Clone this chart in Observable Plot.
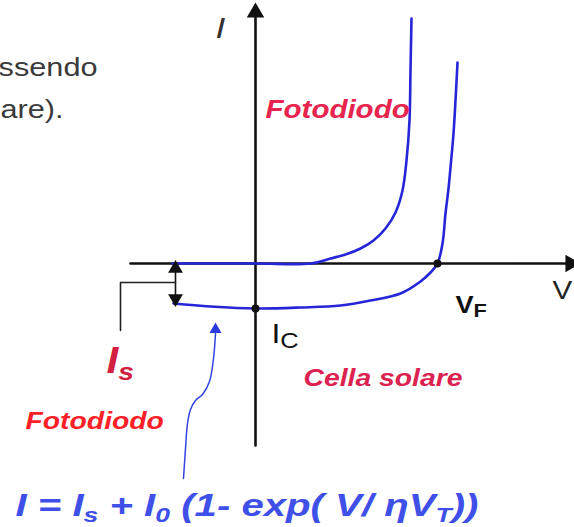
<!DOCTYPE html>
<html>
<head>
<meta charset="utf-8">
<script src="https://cdn.jsdelivr.net/npm/d3@7"></script>
<script src="https://cdn.jsdelivr.net/npm/@observablehq/plot@0.6"></script>
<style>
  html, body { margin: 0; padding: 0; background: #fff; }
  svg { display: block; }
</style>
</head>
<body>
<script>
// ---- Data (V, I in drawing units, origin at the axes crossing) ----
// Dark photodiode characteristic (upper curve)
const darkV = [-83, 0, 55, 75, 90, 105, 118, 130, 140, 147, 151, 154, 155, 156];
const darkI = [0, 0, 0, 5, 9, 15, 23, 35, 51, 73, 103, 143, 193, 245];
// Illuminated characteristic (lower curve, solar cell)
const litV = [-82, -45, 0, 45, 85, 115, 145, 165, 175, 182, 187, 190, 193, 195, 198, 200, 202];
const litI = [-40, -43, -45, -44, -42, -37, -30, -18, -9, 0, 20, 50, 75, 96, 130, 163, 201];
// Axes extents
const axisV = [-125, 312];
const axisI = [-182, 248];
// Is double arrow and bracket
const isArrowV = [-80, -80];
const isArrowI = [0, -40];
const bracketV = [-80, -135, -135];
const bracketI = [-19, -19, -67];
// Arrow from formula to the curve
const pointerV = [-72, -70, -68, -65, -60, -53, -46, -42, -40];
const pointerI = [-215, -185, -160, -146, -137, -131, -118, -95, -70];
// Marked points: Ic and VF
const markV = [0, 182];
const markI = [-45, 0];
// Labels
const labelText = ["Fotodiodo", "Cella solare", "Fotodiodo", "I_s", "I", "V", "V_F", "I_C",
  "I = I_s + I_0 (1- exp( V/ ηV_T))", "ssendo", "are)."];
const labelV = [10, 48, -230, -149, -40, 297, 200, 16, -240, -158, -192];
const labelI = [146, -122, -165, -109, 226, -35, -49, -79, -252, 188, 146];

// ---- Build tables ----
const pts = (V, I) => V.map((v, i) => ({V: v, I: I[i]}));
const dark = pts(darkV, darkI);
const lit = pts(litV, litI);
const xAxis = pts(axisV, [0, 0]);
const yAxis = pts([0, 0], axisI);
const isArrow = pts(isArrowV, isArrowI);
const bracket = pts(bracketV, bracketI);
const pointer = pts(pointerV, pointerI);
const marks = pts(markV, markI);
const labels = labelText.map((t, i) => ({t, V: labelV[i], I: labelI[i]}));
const L = (i) => [labels[i]];

const F = "'Liberation Sans', Arial, sans-serif";
const txt = (i, o) => Plot.text(L(i), {x: "V", y: "I", text: "t", lineAnchor: "bottom", textAnchor: "start", fontFamily: F, ...o});

const plot = Plot.plot({
  width: 574,
  height: 527,
  margin: 0,
  x: {domain: [-255, 319], range: [0, 574], axis: null},
  y: {domain: [-264, 263], range: [527, 0], axis: null},
  style: {background: "#fff", fontFamily: F},
  marks: [
    Plot.line(xAxis, {x: "V", y: "I", stroke: "#111", strokeWidth: 2.6}),
    Plot.line(yAxis, {x: "V", y: "I", stroke: "#111", strokeWidth: 2.6}),
    Plot.line(dark, {x: "V", y: "I", curve: "catmull-rom", stroke: "#2626d8", strokeWidth: 2.6}),
    Plot.line(lit, {x: "V", y: "I", curve: "catmull-rom", stroke: "#2626d8", strokeWidth: 2.6}),
    Plot.line(isArrow, {x: "V", y: "I", stroke: "#111", strokeWidth: 1.6}),
    Plot.line(bracket, {x: "V", y: "I", stroke: "#222", strokeWidth: 1.6}),
    Plot.line(pointer, {x: "V", y: "I", curve: "catmull-rom", stroke: "#3344e0", strokeWidth: 1.5}),
    // arrowheads
    Plot.dot([{V: axisV[1], I: 0}], {x: "V", y: "I", dx: 3, symbol: "triangle", rotate: 90, r: 6.5, fill: "#111", stroke: "none"}),
    Plot.dot([{V: 0, I: axisI[1]}], {x: "V", y: "I", dy: -3, symbol: "triangle", r: 6.5, fill: "#111", stroke: "none"}),
    Plot.dot([{V: isArrowV[0], I: isArrowI[0]}], {x: "V", y: "I", dy: 5, symbol: "triangle", r: 5.5, fill: "#111", stroke: "none"}),
    Plot.dot([{V: isArrowV[1], I: isArrowI[1]}], {x: "V", y: "I", dy: -5, symbol: "triangle", rotate: 180, r: 5.5, fill: "#111", stroke: "none"}),
    Plot.dot([{V: pointerV[pointerV.length - 1], I: pointerI[pointerI.length - 1]}], {x: "V", y: "I", dy: -4, symbol: "triangle", r: 4.5, fill: "#2b3be0", stroke: "none"}),
    Plot.dot(marks, {x: "V", y: "I", r: 4, fill: "#111", stroke: "none"}),
    // labels
    txt(0, {fontSize: 25, fontWeight: "bold", fontStyle: "italic", fill: "#e6244e"}),
    txt(1, {fontSize: 24, fontWeight: "bold", fontStyle: "italic", fill: "#dc2250"}),
    txt(2, {fontSize: 24, fontWeight: "bold", fontStyle: "italic", fill: "#ff1f28"}),
    txt(3, {fontSize: 36, fontWeight: "bold", fontStyle: "italic", fill: "#d42040"}),
    txt(4, {fontSize: 30, fontStyle: "italic", fill: "#333"}),
    txt(5, {fontSize: 25, fill: "#222"}),
    txt(6, {fontSize: 23, fontWeight: "bold", fill: "#111"}),
    txt(7, {fontSize: 27, fill: "#111"}),
    txt(8, {fontSize: 31, fontWeight: "bold", fontStyle: "italic", fill: "#3f50e8"}),
    txt(9, {fontSize: 26, fill: "#3a3a3a", textAnchor: "end"}),
    txt(10, {fontSize: 26, fill: "#3a3a3a", textAnchor: "end"})
  ]
});

document.body.appendChild(plot);

// subscripts: "_x" -> small lowered tspan; then horizontal stretch like the reference
const NS = "http://www.w3.org/2000/svg";
plot.querySelectorAll("text").forEach(el => {
  const s = el.textContent;
  const isFormula = s.startsWith("I = ");
  const bigSub = (s === "I_C" || s === "V_F");
  if (s.includes("_")) {
    const fs = parseFloat(getComputedStyle(el).fontSize) || 20;
    const scale = bigSub ? 0.8 : 0.66;
    const shift = bigSub ? 0.2 : 0.22;
    const parts = s.split(/_(.)/);
    while (el.firstChild) el.removeChild(el.firstChild);
    let shifted = false;
    parts.forEach((p, k) => {
      if (!p) return;
      const ts = document.createElementNS(NS, "tspan");
      ts.textContent = p;
      if (k % 2 === 1) {
        ts.setAttribute("font-size", (fs * scale).toFixed(1));
        ts.setAttribute("dy", (fs * shift).toFixed(1));
        shifted = true;
      } else if (shifted) {
        ts.setAttribute("dy", (-fs * shift).toFixed(1));
        shifted = false;
      }
      el.appendChild(ts);
    });
  }
  const len = el.getComputedTextLength();
  el.setAttribute("textLength", (isFormula ? 463 : len * 1.18).toFixed(1));
  el.setAttribute("lengthAdjust", "spacingAndGlyphs");
});
</script>
</body>
</html>
